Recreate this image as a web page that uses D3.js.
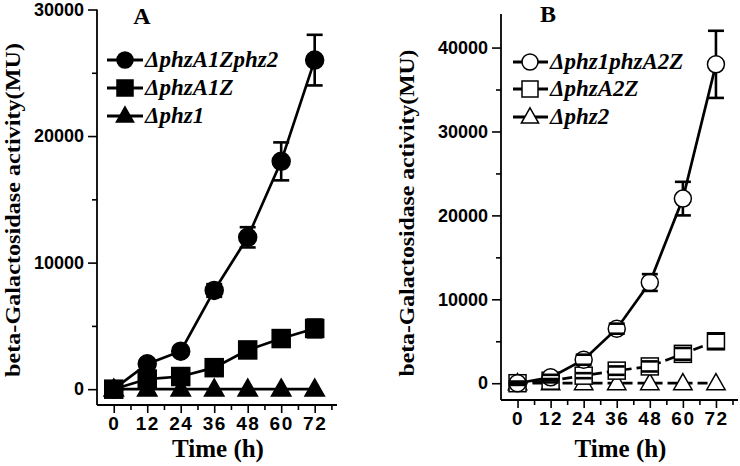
<!DOCTYPE html>
<html><head><meta charset="utf-8">
<script src="https://cdn.jsdelivr.net/npm/d3@7"></script>
<style>body{margin:0;background:#fff}svg{display:block}</style>
</head><body>
<svg id="c" width="740" height="466"></svg>
<script>
// ---- data ----
const times = [0, 12, 24, 36, 48, 60, 72];
const xTicks = [0, 12, 24, 36, 48, 60, 72];
// Panel A
const aNames = ["\u0394phzA1Zphz2", "\u0394phzA1Z", "\u0394phz1"];
const aCircle = [0, 2000, 3000, 7800, 12000, 18000, 26000];
const aCircleErr = [100, 300, 300, 500, 800, 1500, 2000];
const aSquare = [0, 800, 1000, 1700, 3100, 4000, 4800];
const aSquareErr = [100, 200, 200, 300, 400, 500, 700];
const aTriangle = [0, 0, 0, 0, 0, 0, 0];
const aTriangleErr = [0, 0, 0, 0, 0, 0, 0];
const aYTicks = [0, 10000, 20000, 30000];
// Panel B
const bNames = ["\u0394phz1phzA2Z", "\u0394phzA2Z", "\u0394phz2"];
const bCircle = [0, 700, 2800, 6500, 12000, 22000, 38000];
const bCircleErr = [200, 300, 600, 600, 1000, 2000, 4000];
const bSquare = [0, 300, 900, 1500, 2000, 3500, 5000];
const bSquareErr = [100, 200, 300, 500, 600, 700, 900];
const bTriangle = [0, 0, 0, 0, 0, 0, 0];
const bTriangleErr = [0, 0, 0, 0, 0, 0, 0];
const bYTicks = [0, 10000, 20000, 30000, 40000];

const svg = d3.select("#c");

function marker(g, shape, cx, cy, sz, filled) {
  const fill = filled ? "#000" : "#fff";
  if (shape === "circle") {
    g.append("circle").attr("cx", cx).attr("cy", cy).attr("r", sz / 2)
      .attr("fill", fill).attr("stroke", "#000").attr("stroke-width", 1.5);
  } else if (shape === "square") {
    g.append("rect").attr("x", cx - sz / 2).attr("y", cy - sz / 2).attr("width", sz).attr("height", sz)
      .attr("fill", fill).attr("stroke", "#000").attr("stroke-width", 1.5);
  } else {
    const w = sz * 1.08, h = sz * 0.95;
    const pts = [[cx, cy - h * 0.6], [cx + w / 2, cy + h * 0.4], [cx - w / 2, cy + h * 0.4]];
    g.append("path").attr("d", "M" + pts.map(p => p.join(",")).join("L") + "Z")
      .attr("fill", fill).attr("stroke", "#000").attr("stroke-width", 1.5).attr("stroke-linejoin", "miter");
  }
}

function panel(cfg) {
  const g = svg.append("g");
  const x = d3.scaleLinear().domain([-6, 80]).range(cfg.xr);
  const y = d3.scaleLinear().domain(cfg.yd).range(cfg.yr);
  const x0 = cfg.xr[0], yb = cfg.yr[0];

  // axes
  const ya = g.append("g").attr("transform", `translate(${x0},0)`)
    .call(d3.axisLeft(y).tickValues(cfg.yTicks).tickSize(9).tickPadding(4).tickFormat(d3.format("d")));
  const minorY = d3.range(5000, cfg.yd[1], 10000);
  g.append("g").attr("transform", `translate(${x0},0)`)
    .call(d3.axisLeft(y).tickValues(minorY).tickSize(5).tickFormat(""))
    .call(s => s.select(".domain").remove());
  const xa = g.append("g").attr("transform", `translate(0,${yb})`)
    .call(d3.axisBottom(x).tickValues(xTicks).tickSize(8).tickFormat(d3.format("d")));
  g.append("g").attr("transform", `translate(0,${yb})`)
    .call(d3.axisBottom(x).tickValues(d3.range(6, 80, 12)).tickSize(5).tickFormat(""))
    .call(s => s.select(".domain").remove());
  g.selectAll(".domain").attr("stroke-width", 1.8).attr("d", null);
  ya.select(".domain").attr("d", `M0,${cfg.yr[1]}V${yb}`);
  xa.select(".domain").attr("d", `M${x0},0H${cfg.xr[1]}`);
  g.selectAll(".tick line").attr("stroke-width", 1.6);
  ya.selectAll("text").attr("font-family", "Liberation Sans, Arial, sans-serif")
    .attr("font-weight", "bold").attr("font-size", 18);
  xa.selectAll("text").attr("font-family", "Liberation Sans, Arial, sans-serif")
    .attr("font-weight", "bold").attr("font-size", 19).attr("y", 25).attr("dy", 0)
    .attr("letter-spacing", 1.5);

  // axis titles
  g.append("text").attr("x", (cfg.xr[0] + cfg.xr[1]) / 2 + 1).attr("y", 457)
    .attr("text-anchor", "middle").attr("font-family", "Liberation Serif, Times New Roman, serif")
    .attr("font-weight", "bold").attr("font-size", 25).text("Time (h)");
  g.append("text").attr("transform", `translate(${cfg.ylx},${cfg.ylc}) rotate(-90)`)
    .attr("text-anchor", "middle").attr("font-family", "Liberation Serif, Times New Roman, serif")
    .attr("font-weight", "bold").attr("font-size", 22)
    .attr("textLength", cfg.yll).attr("lengthAdjust", "spacingAndGlyphs")
    .text("beta-Galactosidase activity(MU)");
  g.append("text").attr("x", cfg.tag[0]).attr("y", cfg.tag[1]).attr("text-anchor", "middle")
    .attr("font-family", "Liberation Serif, Times New Roman, serif").attr("font-weight", "bold")
    .attr("font-size", 24).text(cfg.tagText);

  const shapes = ["circle", "square", "triangle"];
  const line = d3.line().x((d, i) => x(times[i])).y(d => y(d));

  // error bar verticals
  cfg.series.forEach(s => {
    s.v.forEach((v, i) => {
      if (s.e[i] > 0) g.append("line").attr("x1", x(times[i])).attr("x2", x(times[i]))
        .attr("y1", y(v - s.e[i])).attr("y2", y(v + s.e[i])).attr("stroke", "#000").attr("stroke-width", 2.6);
    });
  });
  // lines
  cfg.series.slice().reverse().forEach(s => {
    g.append("path").attr("d", line(s.v)).attr("fill", "none").attr("stroke", "#000")
      .attr("stroke-width", 2.7).attr("stroke-dasharray", s.dash || null);
  });
  // markers
  cfg.series.slice().reverse().forEach(s => {
    s.v.forEach((v, i) => marker(g, s.shape, x(times[i]), y(v), cfg.msz, cfg.filled));
  });
  // caps
  cfg.series.forEach(s => {
    s.v.forEach((v, i) => {
      if (s.e[i] > 0) [v - s.e[i], v + s.e[i]].forEach(yy => g.append("line")
        .attr("x1", x(times[i]) - 8).attr("x2", x(times[i]) + 8)
        .attr("y1", y(yy)).attr("y2", y(yy)).attr("stroke", "#000").attr("stroke-width", 2.6));
    });
  });

  // legend
  cfg.names.forEach((n, i) => {
    const ly = cfg.leg.ys[i];
    g.append("line").attr("x1", cfg.leg.x1).attr("x2", cfg.leg.x2).attr("y1", ly).attr("y2", ly)
      .attr("stroke", "#000").attr("stroke-width", 3);
    marker(g, shapes[i], cfg.leg.mx, ly, cfg.leg.msz, cfg.filled);
    g.append("text").attr("x", cfg.leg.tx).attr("y", ly + 7).attr("font-family", "Liberation Serif, Times New Roman, serif")
      .attr("font-weight", "bold").attr("font-style", "italic").attr("font-size", 23).text(n);
  });
}

panel({
  xr: [97, 337], yd: [-1250, 30000], yr: [405, 9.5], yTicks: aYTicks,
  ylx: 20, ylc: 210, yll: 334, tag: [142, 24], tagText: "A", msz: 18, filled: true,
  names: aNames,
  series: [
    { v: aCircle, e: aCircleErr, shape: "circle" },
    { v: aSquare, e: aSquareErr, shape: "square" },
    { v: aTriangle, e: aTriangleErr, shape: "triangle" }
  ],
  leg: { x1: 107, x2: 143, mx: 125, ys: [60, 88, 116], tx: 145, msz: 16 }
});
panel({
  xr: [501, 738], yd: [-2000, 44000], yr: [400, 14], yTicks: bYTicks,
  ylx: 414, ylc: 213, yll: 327, tag: [548, 22], tagText: "B", msz: 17, filled: false,
  names: bNames,
  series: [
    { v: bCircle, e: bCircleErr, shape: "circle" },
    { v: bSquare, e: bSquareErr, shape: "square", dash: "10,5" },
    { v: bTriangle, e: bTriangleErr, shape: "triangle", dash: "10,5" }
  ],
  leg: { x1: 513, x2: 548, mx: 530, ys: [62, 89, 117], tx: 550, msz: 16 }
});
</script>
</body></html>
